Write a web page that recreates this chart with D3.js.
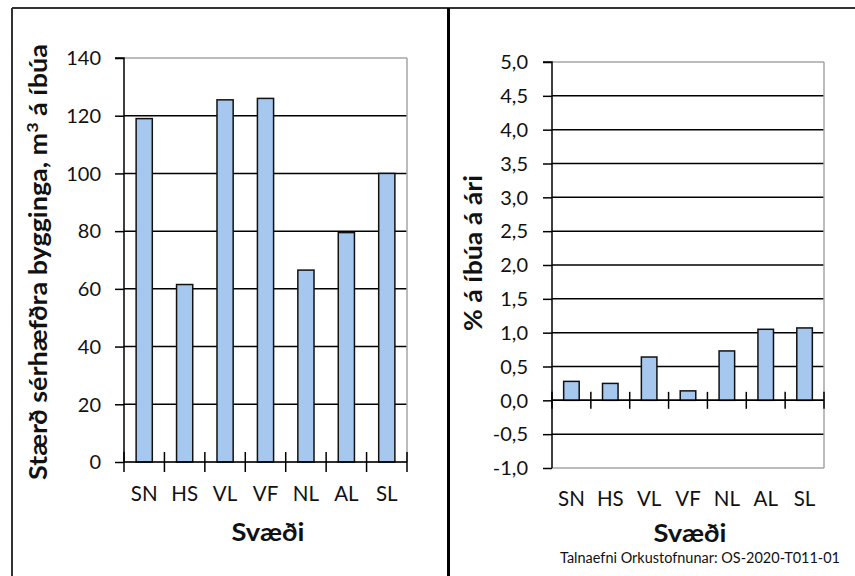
<!DOCTYPE html>
<html><head><meta charset="utf-8">
<script src="https://cdn.jsdelivr.net/npm/d3@7"></script>
<style>html,body{margin:0;padding:0;background:#fff}svg{display:block}</style>
</head><body>
<svg id="c" width="855" height="576"></svg>
<script>
const categories = ["SN","HS","VL","VF","NL","AL","SL"];
const sizeValues = [119, 61.5, 125.5, 126, 66.5, 79.5, 100];
const growthValues = [0.28, 0.25, 0.64, 0.14, 0.73, 1.05, 1.07];
const leftTicks = [0, 20, 40, 60, 80, 100, 120, 140];
const rightTicks = [-1, -0.5, 0, 0.5, 1, 1.5, 2, 2.5, 3, 3.5, 4, 4.5, 5];
const leftTitle = ["Stærð sérhæfðra bygginga, m", "3", " á íbúa"];
const rightTitle = "% á íbúa á ári";
const xTitle = "Svæði";
const sourceText = "Talnaefni Orkustofnunar: OS-2020-T011-01";

const FONT = "Lato, 'Open Sans', sans-serif";
const svg = d3.select("#c");
svg.append("rect").attr("width",855).attr("height",576).attr("fill","#fff");

// frames
svg.append("line").attr("x1",12).attr("x2",855).attr("y1",8).attr("y2",8).attr("stroke","#333").attr("stroke-width",2);
svg.append("line").attr("x1",12).attr("x2",12).attr("y1",8).attr("y2",576).attr("stroke","#333").attr("stroke-width",2);
svg.append("line").attr("x1",448.5).attr("x2",448.5).attr("y1",8).attr("y2",576).attr("stroke","#000").attr("stroke-width",3);

const locale = d3.formatLocale({decimal: ",", thousands: ".", grouping: [3], currency: ["", ""], minus: "-"});
const fmt1 = locale.format(".1f");

function panel(opts) {
  const {x0, x1, yTop, yBot, domain, ticks, tickFmt, values, labelX, catY} = opts;
  const g = svg.append("g");
  const x = d3.scaleBand().domain(categories).range([x0, x1]).paddingInner(0.6).paddingOuter(0.3);
  const y = d3.scaleLinear().domain(domain).range([yBot, yTop]);
  const step = x.step();
  ticks.forEach(t => {
    const isEdge = (t === domain[0] || t === domain[1]);
    g.append("line").attr("x1", x0).attr("x2", x1).attr("y1", y(t)).attr("y2", y(t))
      .attr("stroke", isEdge ? "#a6a6a6" : "#000").attr("stroke-width", 1.5);
  });
  g.append("line").attr("x1", x1).attr("x2", x1).attr("y1", y(domain[1])).attr("y2", y(domain[0]))
    .attr("stroke", "#a6a6a6").attr("stroke-width", 1.5);
  g.selectAll("rect.bar").data(categories).join("rect")
    .attr("x", d => x(d)).attr("width", x.bandwidth())
    .attr("y", (d,i) => y(Math.max(0, values[i])))
    .attr("height", (d,i) => Math.abs(y(values[i]) - y(0)))
    .attr("fill", "#a7c8ee").attr("stroke", "#111").attr("stroke-width", 1.5);
  const yAxis = d3.axisLeft(y).tickValues(ticks).tickSize(9).tickPadding(14).tickFormat(tickFmt);
  const ya = g.append("g").attr("transform", `translate(${x0},0)`).call(yAxis);
  ya.select(".domain").attr("stroke", "#000").attr("stroke-width", 1.5).attr("d", `M-9,${y(domain[1])}H0V${y(domain[0])}`);
  ya.selectAll(".tick line").attr("stroke", "#000").attr("stroke-width", 1.5);
  ya.selectAll(".tick text").attr("font-family", FONT).attr("font-size", 20).attr("fill", "#111").attr("x", labelX - x0).attr("dy", "0.34em");
  const y0 = y(0);
  g.append("line").attr("x1", x0).attr("x2", x1).attr("y1", y0).attr("y2", y0).attr("stroke", "#000").attr("stroke-width", 1.5);
  const bounds = categories.map(c => x(c) - (step - x.bandwidth()) / 2).concat([x1]);
  g.selectAll("line.xt").data(bounds).join("line").attr("class","xt")
    .attr("x1", d => d).attr("x2", d => d).attr("y1", y0 - opts.tk).attr("y2", y0 + opts.tk)
    .attr("stroke", "#000").attr("stroke-width", 1.5);
  g.selectAll("text.cat").data(categories).join("text").attr("class","cat")
    .attr("x", d => x(d) + x.bandwidth()/2).attr("y", catY)
    .attr("text-anchor", "middle").attr("font-family", FONT).attr("font-size", 20.5).attr("fill", "#111")
    .text(d => d);
  return {x, y};
}

panel({x0:124, x1:407, yTop:58, yBot:462, domain:[0,140], ticks:leftTicks, tickFmt:d3.format("d"),
  values:sizeValues, labelX:101, catY:501, tk:10});
panel({x0:552, x1:824, yTop:62, yBot:468, domain:[-1,5], ticks:rightTicks, tickFmt:fmt1,
  values:growthValues, labelX:528, catY:506, tk:8.5});

// axis titles
svg.append("text").attr("x", 268).attr("y", 541).attr("text-anchor","middle")
  .attr("font-family", FONT).attr("font-weight","bold").attr("font-size", 25).attr("fill","#111")
  .attr("textLength", 73).attr("lengthAdjust","spacingAndGlyphs").text(xTitle);
svg.append("text").attr("x", 690).attr("y", 542).attr("text-anchor","middle")
  .attr("font-family", FONT).attr("font-weight","bold").attr("font-size", 25).attr("fill","#111")
  .attr("textLength", 73).attr("lengthAdjust","spacingAndGlyphs").text(xTitle);

const lt = svg.append("text").attr("transform","translate(47,262) rotate(-90)").attr("text-anchor","middle")
  .attr("font-family", FONT).attr("font-weight","bold").attr("font-size", 24).attr("fill","#111")
  .attr("textLength", 436).attr("lengthAdjust","spacingAndGlyphs");
lt.append("tspan").text(leftTitle[0]);
lt.append("tspan").attr("baseline-shift","super").attr("font-size",16).text(leftTitle[1]);
lt.append("tspan").text(leftTitle[2]);

svg.append("text").attr("transform","translate(482,253) rotate(-90)").attr("text-anchor","middle")
  .attr("font-family", FONT).attr("font-weight","bold").attr("font-size", 24).attr("fill","#111")
  .attr("textLength", 156).attr("lengthAdjust","spacingAndGlyphs").text(rightTitle);

svg.append("text").attr("x", 840).attr("y", 563).attr("text-anchor","end")
  .attr("font-family", FONT).attr("font-size", 14.5).attr("fill","#111")
  .attr("textLength", 280).attr("lengthAdjust","spacingAndGlyphs").text(sourceText);
</script>
</body></html>
